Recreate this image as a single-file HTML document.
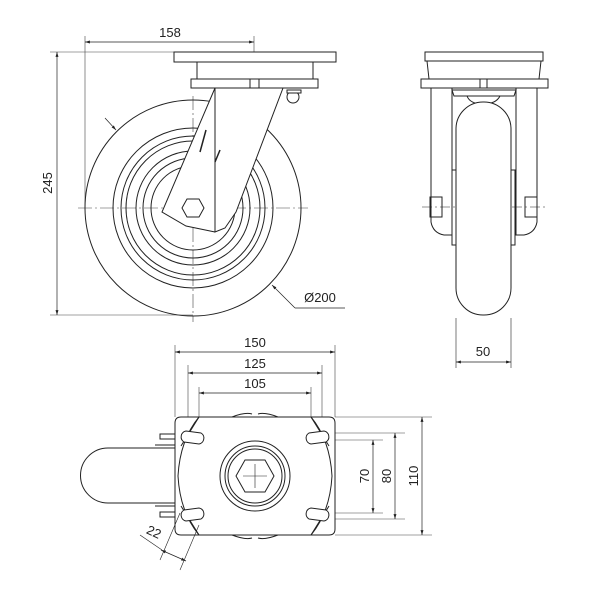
<!DOCTYPE html>
<html><head><meta charset="utf-8"><style>
html,body{margin:0;padding:0;background:#fff;}
svg{display:block;}
text{font-family:"Liberation Sans",sans-serif;font-size:13px;fill:#222;}
</style></head><body>
<svg width="600" height="600" viewBox="0 0 600 600" xmlns="http://www.w3.org/2000/svg">
<defs>
<marker id="a" viewBox="0 0 10 10" refX="10" refY="5" markerWidth="7" markerHeight="7" orient="auto-start-reverse"><path d="M0,2 L10,5 L0,8 z" fill="#222"/></marker>
</defs>
<g stroke="#222" fill="none" stroke-width="1">
<!-- ===== SIDE VIEW ===== -->
<g stroke-width="0.6" stroke="#444">
<line x1="85" y1="36" x2="85" y2="210"/>
<line x1="254" y1="36" x2="254" y2="90"/>
<line x1="50" y1="52" x2="174" y2="52"/>
<line x1="50" y1="315" x2="193" y2="315"/>
<line x1="78" y1="208" x2="308" y2="208" stroke-dasharray="14 3 2 3"/>
<line x1="193" y1="96" x2="193" y2="322" stroke-dasharray="14 3 2 3"/>
</g>
<line x1="85" y1="42" x2="254" y2="42" stroke-width="0.7" marker-start="url(#a)" marker-end="url(#a)"/>
<line x1="57" y1="52" x2="57" y2="315" stroke-width="0.7" marker-start="url(#a)" marker-end="url(#a)"/>
<circle cx="193" cy="208" r="108"/>
<circle cx="193" cy="208" r="80"/>
<circle cx="193" cy="208" r="72"/>
<circle cx="193" cy="208" r="67"/>
<circle cx="193" cy="208" r="57"/>
<circle cx="193" cy="208" r="50"/>
<circle cx="193" cy="208" r="42"/>
<path d="M215,88 L283,88 L236,212 L225,228 L215,232 Z M215,88 L162,212 L186,226 L215,232" fill="#fff"/>
<line x1="215" y1="88" x2="215" y2="232"/>
<rect x="174" y="52" width="162" height="10" fill="#fff"/>
<rect x="197" y="62" width="116" height="17" fill="#fff"/>
<rect x="191" y="79" width="127" height="9" fill="#fff"/>
<line x1="250" y1="79" x2="250" y2="88"/><line x1="259" y1="79" x2="259" y2="88"/>
<circle cx="293" cy="97" r="6" fill="#fff"/>
<path d="M287,90 h14 v3 h-14z" fill="#fff"/>
<polygon points="182,208 187,199 199,199 204,208 199,217 187,217" fill="#fff"/>
<line x1="193" y1="208" x2="193" y2="208"/>
<path d="M206,130 l-6,22 M220,150 l-5,12" stroke-width="1.5"/>
<line x1="105" y1="118" x2="116" y2="130" stroke-width="0.7" marker-end="url(#a)"/>
<path d="M295,308 L272,285" stroke-width="0.7" marker-end="url(#a)"/>
<line x1="295" y1="308" x2="345" y2="308" stroke-width="0.7"/>
<!-- ===== FRONT VIEW ===== -->
<line x1="483" y1="105" x2="483" y2="310" stroke-width="0.6" stroke-dasharray="10 3 2 3"/>
<line x1="422" y1="207" x2="545" y2="207" stroke-width="0.6" stroke-dasharray="10 3 2 3"/>
<rect x="425" y="52" width="118" height="9"/>
<path d="M427,61 L429,79 M541,61 L539,79"/>
<rect x="421" y="79" width="127" height="9"/>
<line x1="480" y1="79" x2="480" y2="88"/><line x1="487" y1="79" x2="487" y2="88"/>
<path d="M431,88 L431,222 Q433,233 444,235 L452,235 L452,88"/>
<path d="M537,88 L537,222 Q535,233 524,235 L516,235 L516,88"/>
<path d="M452,90 L516,90 L514,96 L454,96 Z"/>
<path d="M467,96 Q470,104 483,104 Q496,104 500,96"/>
<rect x="456" y="102" width="55" height="213" rx="27" ry="27" fill="#fff"/>
<rect x="452" y="170" width="4" height="75"/>
<rect x="511" y="170" width="4" height="75"/>
<rect x="430" y="197" width="12" height="20"/>
<rect x="525" y="197" width="12" height="20"/>
<line x1="456" y1="318" x2="456" y2="368" stroke-width="0.6"/>
<line x1="511" y1="318" x2="511" y2="368" stroke-width="0.6"/>
<line x1="456" y1="362" x2="511" y2="362" stroke-width="0.7" marker-start="url(#a)" marker-end="url(#a)"/>
<!-- ===== TOP VIEW ===== -->
<g stroke-width="0.6" stroke="#444">
<line x1="175" y1="345" x2="175" y2="417"/>
<line x1="335" y1="345" x2="335" y2="417"/>
<line x1="188" y1="365" x2="188" y2="440"/>
<line x1="322" y1="365" x2="322" y2="440"/>
<line x1="199" y1="387" x2="199" y2="430"/>
<line x1="311" y1="387" x2="311" y2="430"/>
<line x1="335" y1="417" x2="432" y2="417"/>
<line x1="335" y1="535" x2="432" y2="535"/>
<line x1="320" y1="433" x2="405" y2="433"/>
<line x1="320" y1="519" x2="405" y2="519"/>
<line x1="325" y1="440" x2="383" y2="440"/>
<line x1="325" y1="513" x2="383" y2="513"/>
<line x1="215" y1="476" x2="295" y2="476"/>
<line x1="255" y1="436" x2="255" y2="516"/>
<line x1="180" y1="437" x2="212" y2="437"/><line x1="299" y1="437" x2="328" y2="437"/>
<line x1="180" y1="513" x2="212" y2="513"/><line x1="299" y1="513" x2="328" y2="513"/>
<line x1="193" y1="420" x2="193" y2="450"/><line x1="312" y1="420" x2="312" y2="450"/>
<line x1="193" y1="500" x2="193" y2="530"/><line x1="312" y1="500" x2="312" y2="530"/>
</g>
<line x1="175" y1="352" x2="335" y2="352" stroke-width="0.7" marker-start="url(#a)" marker-end="url(#a)"/>
<line x1="188" y1="373" x2="322" y2="373" stroke-width="0.7" marker-start="url(#a)" marker-end="url(#a)"/>
<line x1="199" y1="393" x2="311" y2="393" stroke-width="0.7" marker-start="url(#a)" marker-end="url(#a)"/>
<line x1="373" y1="440" x2="373" y2="513" stroke-width="0.7" marker-start="url(#a)" marker-end="url(#a)"/>
<line x1="395" y1="433" x2="395" y2="519" stroke-width="0.7" marker-start="url(#a)" marker-end="url(#a)"/>
<line x1="422" y1="417" x2="422" y2="535" stroke-width="0.7" marker-start="url(#a)" marker-end="url(#a)"/>
<path d="M175,448 L108,448 A27,27 0 0 0 108,503 L175,503" fill="#fff"/>
<path d="M155,445 h20 M155,506 h20"/>
<rect x="160" y="434" width="15" height="5"/><rect x="160" y="512" width="15" height="5"/>
<path d="M232,417 Q245,412 252,414 M258,414 Q265,412 278,417 M232,535 Q245,540 252,538 M258,538 Q265,540 278,535"/>
<path d="M181,417 L329,417 Q335,417 335,423 L335,529 Q335,535 329,535 L181,535 Q175,535 175,529 L175,423 Q175,417 181,417 Z" fill="#fff"/>
<path d="M199,417 Q180,440 178,476 Q180,512 199,535 M311,417 Q330,440 332,476 Q330,512 311,535"/>
<path d="M188,417 L199,417 M181,446 L199,417 M181,506 L199,535 M322,417 L311,417 M329,446 L311,417 M329,506 L311,535"/>
<g fill="#fff">
<path d="M186,431 L201,433 A6,6 0 0 1 199,444 L184,442 A6,6 0 0 1 186,431Z"/>
<path d="M186,521 L201,519 A6,6 0 0 0 199,508 L184,510 A6,6 0 0 0 186,521Z"/>
<path d="M324,431 L309,433 A6,6 0 0 0 311,444 L326,442 A6,6 0 0 0 324,431Z"/>
<path d="M324,521 L309,519 A6,6 0 0 1 311,508 L326,510 A6,6 0 0 1 324,521Z"/>
</g>
<circle cx="255" cy="476" r="35"/>
<circle cx="255" cy="476" r="30"/>
<circle cx="255" cy="476" r="27"/>
<polygon points="236,476 245,460 265,460 274,476 265,492 245,492" fill="#fff"/>
<line x1="243" y1="476" x2="267" y2="476" stroke-width="0.6"/>
<line x1="255" y1="464" x2="255" y2="488" stroke-width="0.6"/>
<line x1="180" y1="513" x2="160" y2="560" stroke-width="0.6"/>
<line x1="199" y1="525" x2="180" y2="570" stroke-width="0.6"/>
<line x1="161" y1="550" x2="186" y2="561" stroke-width="0.7" marker-start="url(#a)" marker-end="url(#a)"/>
<line x1="140" y1="535" x2="162" y2="550" stroke-width="0.6"/>
</g>
<text x="170" y="37" text-anchor="middle">158</text>
<text x="0" y="0" text-anchor="middle" transform="translate(52,183) rotate(-90)">245</text>
<text x="320" y="302" text-anchor="middle">Ø200</text>
<text x="483" y="356" text-anchor="middle">50</text>
<text x="255" y="347" text-anchor="middle">150</text>
<text x="255" y="368" text-anchor="middle">125</text>
<text x="255" y="388" text-anchor="middle">105</text>
<text x="0" y="0" text-anchor="middle" transform="translate(369,476) rotate(-90)">70</text>
<text x="0" y="0" text-anchor="middle" transform="translate(391,476) rotate(-90)">80</text>
<text x="0" y="0" text-anchor="middle" transform="translate(418,476) rotate(-90)">110</text>
<text x="0" y="0" text-anchor="middle" transform="translate(152,536) rotate(25)">22</text>
</svg>
</body></html>
